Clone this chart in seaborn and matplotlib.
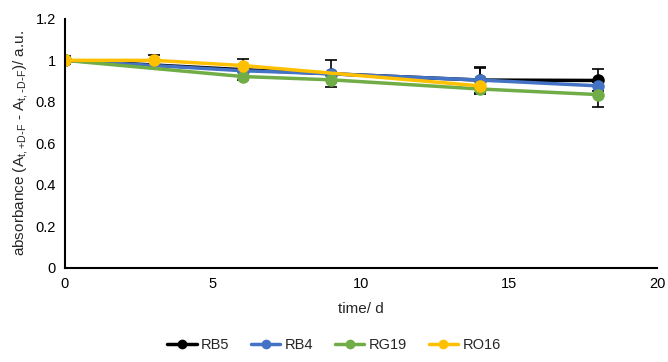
import numpy as np
import pandas as pd
import seaborn as sns
import matplotlib.pyplot as plt

# data
series = ['RB5', 'RB4', 'RG19', 'RO16']
colors = ['#000000', '#4472C4', '#70AD47', '#FFC000']

rb5_t = [0, 6, 9, 14, 18]
rb5_y = [1.0, 0.955, 0.935, 0.905, 0.903]
rb5_err = [0.02, 0.05, 0.065, 0.065, 0.053]

rb4_t = [0, 6, 9, 14, 18]
rb4_y = [1.0, 0.95, 0.935, 0.905, 0.877]
rb4_err = [0.0, 0.0, 0.0, 0.06, 0.0]

rg19_t = [0, 6, 9, 14, 18]
rg19_y = [1.0, 0.922, 0.906, 0.862, 0.835]
rg19_err = [0.0, 0.0, 0.0, 0.0, 0.06]

ro16_t = [0, 3, 6, 14]
ro16_y = [1.0, 1.0, 0.975, 0.877]
ro16_err = [0.0, 0.027, 0.0, 0.0]

times = [rb5_t, rb4_t, rg19_t, ro16_t]
values = [rb5_y, rb4_y, rg19_y, ro16_y]
errors = [rb5_err, rb4_err, rg19_err, ro16_err]

df = pd.concat([pd.DataFrame({'time': t, 'value': v, 'dye': s})
                for s, t, v in zip(series, times, values)], ignore_index=True)

sns.set_style('white')
plt.rcParams['font.family'] = ['Liberation Sans', 'DejaVu Sans']
plt.rcParams['mathtext.default'] = 'regular'

fig = plt.figure(figsize=(6.68, 3.62), dpi=100)
ax = fig.add_axes([0.097, 0.26, 0.887, 0.688])

# error bars only where there is one, kept behind the markers
for t, v, e in zip(times, values, errors):
    t, v, e = np.array(t), np.array(v), np.array(e)
    keep = e > 0
    ax.errorbar(t[keep], v[keep], yerr=e[keep], fmt='none', ecolor='black',
                elinewidth=1.2, capsize=4, capthick=1.2, zorder=1.5)

sns.lineplot(data=df, x='time', y='value', hue='dye', hue_order=series,
             palette=colors, marker='o', markersize=9, markeredgewidth=0,
             linewidth=2.5, ax=ax, zorder=2, legend=True)

ax.set_xlim(0, 20)
ax.set_ylim(0, 1.2)
ax.set_xticks([0, 5, 10, 15, 20])
ax.set_yticks([0, 0.2, 0.4, 0.6, 0.8, 1.0, 1.2])
ax.set_yticklabels(['0', '0.2', '0.4', '0.6', '0.8', '1', '1.2'])
ax.tick_params(axis='both', direction='inout', length=6, width=1.2,
               labelsize=10.5, colors='black')
for side in ['top', 'right']:
    ax.spines[side].set_visible(False)
for side in ['left', 'bottom']:
    ax.spines[side].set_color('black')
    ax.spines[side].set_linewidth(1.5)
ax.set_xlabel('time/ d', fontsize=11, labelpad=8)
ax.set_ylabel(r'absorbance (A$_{t,{+}D\text{-}F}$ - A$_{t,\text{-}D\text{-}F}$)/ a.u.',
              fontsize=11, labelpad=4)

handles, labels = ax.get_legend_handles_labels()
ax.get_legend().remove()
for h in handles:
    h.set_markersize(7)
fig.legend(handles, labels, loc='lower center', bbox_to_anchor=(0.5, -0.01),
           ncol=4, frameon=False, fontsize=10.5, handlelength=2.0,
           columnspacing=1.5, handletextpad=0.3)

fig.savefig('out.png', dpi=100)
